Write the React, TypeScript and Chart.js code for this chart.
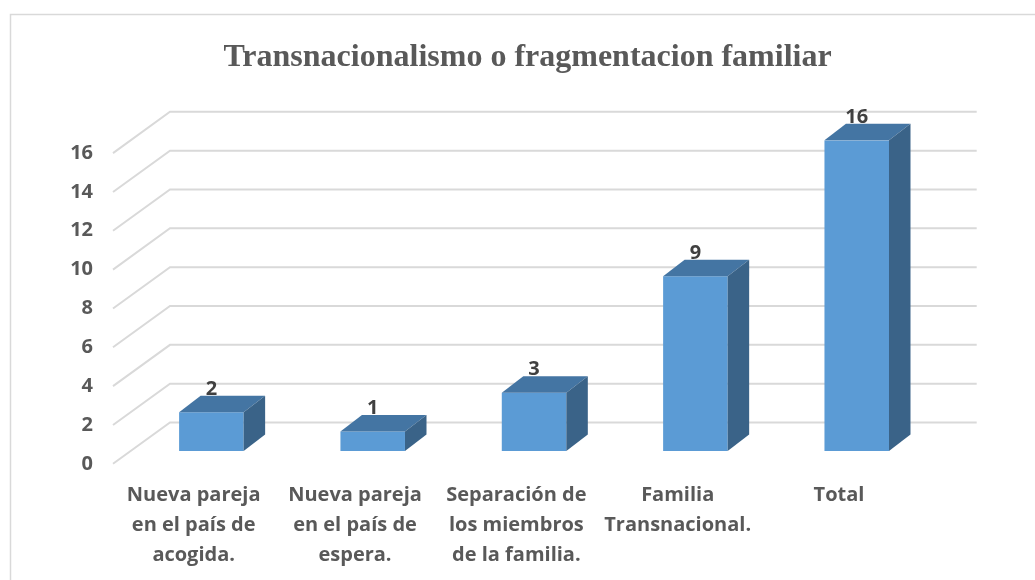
import React, { useEffect, useRef } from 'react';
import { Chart, registerables } from 'chart.js';

Chart.register(...registerables);

const chartTitle = 'Transnacionalismo o fragmentacion familiar';
const categories: string[][] = [
  ['Nueva pareja', 'en el país de', 'acogida.'],
  ['Nueva pareja', 'en el país de', 'espera.'],
  ['Separación de', 'los miembros', 'de la familia.'],
  ['Familia', 'Transnacional.'],
  ['Total'],
];
const values: number[] = [2, 1, 3, 9, 16];
const yMin = 0;
const yMax = 16;
const yStep = 2;

const FRONT_COLOR = '#5B9BD5';
const TOP_COLOR = '#4475A3';
const SIDE_COLOR = '#3A6388';
const GRID_COLOR = '#D9D9D9';
const TEXT_COLOR = '#595959';
const LABEL_COLOR = '#404040';
const SANS = '"Open Sans", "Noto Sans", sans-serif';

// 3D geometry (offsets relative to the bar front plane)
const BAR_DX = 21.5;
const BAR_DY = 16.5;
const FLOOR_FRONT_DX = -17.7;
const FLOOR_FRONT_DY = 12.8;
const FLOOR_BACK_DX = 39.3;
const FLOOR_BACK_DY = -28.5;

const threeD = {
  id: 'threeD',
  beforeDatasetsDraw(chart: any) {
    const { ctx, chartArea } = chart;
    const yScale = chart.scales.y;
    ctx.save();
    // frame
    ctx.strokeStyle = GRID_COLOR;
    ctx.lineWidth = 1.5;
    ctx.beginPath();
    ctx.moveTo(10.5, 580);
    ctx.lineTo(10.5, 14.5);
    ctx.lineTo(1035, 14.5);
    ctx.stroke();
    // title
    ctx.fillStyle = TEXT_COLOR;
    ctx.font = 'bold 32px "Liberation Serif", "Times New Roman", serif';
    ctx.textAlign = 'center';
    ctx.textBaseline = 'alphabetic';
    ctx.fillText(chartTitle, 527.5, 65.5);
    // gridlines (floor-side slant + back wall)
    ctx.strokeStyle = GRID_COLOR;
    ctx.lineWidth = 2;
    for (const t of yScale.ticks) {
      const y = yScale.getPixelForValue(t.value);
      ctx.beginPath();
      ctx.moveTo(chartArea.left + FLOOR_FRONT_DX, y + FLOOR_FRONT_DY);
      ctx.lineTo(chartArea.left + FLOOR_BACK_DX, y + FLOOR_BACK_DY);
      ctx.lineTo(chartArea.right + FLOOR_BACK_DX, y + FLOOR_BACK_DY);
      ctx.stroke();
    }
    ctx.restore();
  },
  afterDatasetsDraw(chart: any) {
    const { ctx } = chart;
    const meta = chart.getDatasetMeta(0);
    ctx.save();
    meta.data.forEach((el: any, i: number) => {
      const { x, y, base, width } = el.getProps(['x', 'y', 'base', 'width'], true);
      const l = x - width / 2;
      const r = x + width / 2;
      // top face
      ctx.fillStyle = TOP_COLOR;
      ctx.beginPath();
      ctx.moveTo(l, y);
      ctx.lineTo(r, y);
      ctx.lineTo(r + BAR_DX, y - BAR_DY);
      ctx.lineTo(l + BAR_DX, y - BAR_DY);
      ctx.closePath();
      ctx.fill();
      // side face
      ctx.fillStyle = SIDE_COLOR;
      ctx.beginPath();
      ctx.moveTo(r, y);
      ctx.lineTo(r + BAR_DX, y - BAR_DY);
      ctx.lineTo(r + BAR_DX, base - BAR_DY);
      ctx.lineTo(r, base);
      ctx.closePath();
      ctx.fill();
      // data label
      ctx.fillStyle = LABEL_COLOR;
      ctx.font = 'bold 20px ' + SANS;
      ctx.textAlign = 'center';
      ctx.textBaseline = 'alphabetic';
      ctx.fillText(String(values[i]), x, y - BAR_DY - 1);
    });
    ctx.restore();
  },
};

export default function App() {
  const ref = useRef<HTMLCanvasElement | null>(null);
  useEffect(() => {
    if (!ref.current) return;
    const chart = new Chart(ref.current, {
      type: 'bar',
      data: {
        labels: categories,
        datasets: [
          {
            data: values,
            backgroundColor: FRONT_COLOR,
            borderWidth: 0,
            categoryPercentage: 1,
            barPercentage: 0.4,
          },
        ],
      },
      options: {
        responsive: false,
        animation: false,
        events: [],
        layout: { padding: { top: 140.3, right: 97.6, bottom: 0, left: 0 } },
        plugins: {
          legend: { display: false },
          title: { display: false },
          tooltip: { enabled: false },
        },
        scales: {
          x: {
            grid: { display: false, drawTicks: false },
            border: { display: false },
            ticks: {
              color: TEXT_COLOR,
              font: { family: SANS, size: 20, weight: 'bold', lineHeight: 1.5 },
              padding: 29,
              labelOffset: FLOOR_FRONT_DX,
              maxRotation: 0,
              autoSkip: false,
            },
            afterFit(scale: any) {
              scale.height = 129;
            },
          },
          y: {
            min: yMin,
            max: yMax,
            grid: { display: false, drawTicks: false },
            border: { display: false },
            ticks: {
              stepSize: yStep,
              color: TEXT_COLOR,
              font: { family: SANS, size: 20, weight: 'bold' },
              padding: 37.7,
              labelOffset: FLOOR_FRONT_DY,
            },
            afterFit(scale: any) {
              scale.width = 130.7;
            },
          },
        },
      },
      plugins: [threeD],
    });
    return () => chart.destroy();
  }, []);
  return (
    <div style={{ position: 'fixed', left: 0, top: 0, width: 1035, height: 580, background: '#fff' }}>
      <canvas ref={ref} width={1035} height={580} style={{ width: 1035, height: 580, display: 'block' }} />
    </div>
  );
}
